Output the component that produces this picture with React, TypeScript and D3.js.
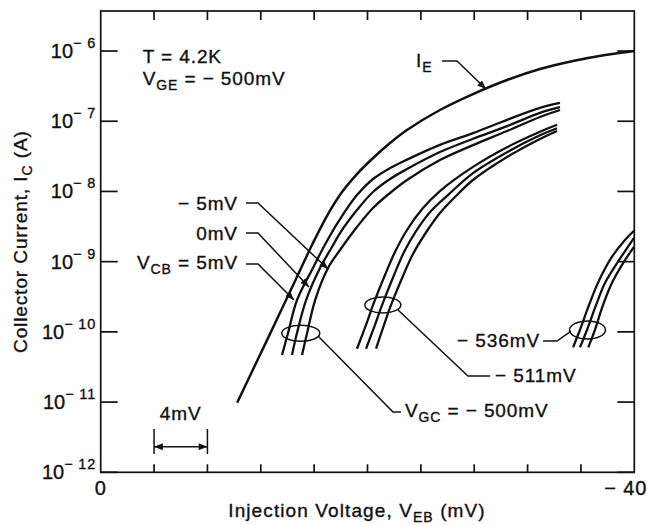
import * as d3 from "d3";

const FONT = "'Liberation Sans', Arial, Helvetica, sans-serif";

// x: injection voltage V_EB (mV), y: log10 of current (A)
const xTickValues = [0, -4, -8, -12, -16, -20, -24, -28, -32, -36, -40];
const yDecades = [-12, -11, -10, -9, -8, -7, -6];
const yTickSup = ["− 12", "− 11", "− 10", "− 9", "− 8", "− 7", "− 6"];

const emitterCurrent: [number, number][] = [
  [-10.23, -11.01], [-11.72, -10.415], [-13.22, -9.817], [-14.64, -9.247], [-15.91, -8.735],
  [-17.04, -8.322], [-18.09, -8.008], [-19.21, -7.752], [-20.34, -7.538], [-21.69, -7.31],
  [-22.96, -7.125], [-25.43, -6.84], [-27.91, -6.613], [-30.46, -6.413], [-32.93, -6.257],
  [-35.41, -6.143], [-37.81, -6.057], [-39.98, -6.0],
];

// V_GC = -500 mV, V_CB = 5, 0, -5 mV
const gc500Vcb5: [number, number][] = [
  [-13.59, -10.33], [-14.04, -10.02], [-14.71, -9.55], [-15.91, -9.09], [-16.89, -8.73],
  [-17.94, -8.393], [-19.21, -8.051], [-20.41, -7.823], [-21.69, -7.667], [-22.96, -7.547],
  [-25.43, -7.337], [-27.91, -7.17], [-30.46, -6.98], [-32.93, -6.81], [-34.43, -6.74],
];
const gc500Vcb0: [number, number][] = [
  [-14.34, -10.33], [-14.71, -10.02], [-15.39, -9.55], [-16.44, -9.09], [-17.34, -8.791],
  [-17.94, -8.592], [-19.21, -8.265], [-20.41, -8.008], [-21.69, -7.823], [-22.96, -7.681],
  [-25.43, -7.439], [-27.91, -7.25], [-30.46, -7.07], [-32.93, -6.88], [-34.43, -6.8],
];
const gc500VcbM5: [number, number][] = [
  [-15.09, -10.33], [-15.47, -10.02], [-16.07, -9.55], [-17.04, -9.09], [-17.94, -8.834],
  [-19.21, -8.507], [-20.41, -8.236], [-21.69, -8.022], [-22.96, -7.837], [-25.43, -7.553],
  [-27.91, -7.34], [-30.46, -7.14], [-32.93, -6.94], [-34.43, -6.84],
];

// V_GC = -511 mV
const gc511Vcb5: [number, number][] = [
  [-19.21, -10.24], [-19.89, -9.9], [-20.41, -9.62], [-21.31, -9.19], [-22.06, -8.863],
  [-22.96, -8.549], [-24.16, -8.236], [-25.43, -7.994], [-27.91, -7.65], [-30.46, -7.37],
  [-32.93, -7.15], [-34.21, -7.05],
];
const gc511Vcb0: [number, number][] = [
  [-19.89, -10.24], [-20.56, -9.9], [-21.09, -9.62], [-21.99, -9.19], [-22.74, -8.863],
  [-23.64, -8.564], [-24.76, -8.279], [-26.03, -8.051], [-27.91, -7.738], [-30.46, -7.44],
  [-32.93, -7.2], [-34.21, -7.1],
];
const gc511VcbM5: [number, number][] = [
  [-20.64, -10.24], [-21.24, -9.9], [-21.76, -9.62], [-22.66, -9.204], [-23.41, -8.891],
  [-24.31, -8.606], [-25.43, -8.307], [-26.63, -8.065], [-27.91, -7.837], [-30.46, -7.51],
  [-32.93, -7.253], [-34.21, -7.14],
];

// V_GC = -536 mV
const gc536Vcb5: [number, number][] = [
  [-35.41, -10.22], [-35.93, -9.97], [-36.6, -9.62], [-37.28, -9.3], [-38.33, -8.93],
  [-39.3, -8.69], [-39.98, -8.56],
];
const gc536Vcb0: [number, number][] = [
  [-35.93, -10.22], [-36.46, -9.97], [-37.13, -9.62], [-37.81, -9.3], [-38.78, -9.0],
  [-39.98, -8.66],
];
const gc536VcbM5: [number, number][] = [
  [-36.55, -10.22], [-37.05, -9.97], [-37.65, -9.62], [-38.33, -9.3], [-39.23, -9.0],
  [-39.98, -8.79],
];

const collectorCurves = [
  gc500Vcb5, gc500Vcb0, gc500VcbM5,
  gc511Vcb5, gc511Vcb0, gc511VcbM5,
  gc536Vcb5, gc536Vcb0, gc536VcbM5,
];

// annotation anchors, in (mV, log10 A)
const ellipses: { c: [number, number]; rx: number; ry: number }[] = [
  { c: [-15.0, -10.02], rx: 19, ry: 8 },
  { c: [-21.15, -9.617], rx: 18, ry: 8 },
  { c: [-36.49, -9.973], rx: 18, ry: 9 },
];
const arrowLeaders: [number, number][][] = [
  [[-10.89, -8.165], [-11.79, -8.165], [-17.04, -9.105]],
  [[-10.89, -8.592], [-11.79, -8.592], [-15.61, -9.361]],
  [[-10.89, -9.034], [-11.79, -9.034], [-14.49, -9.546]],
  [[-25.58, -6.143], [-26.71, -6.143], [-28.88, -6.541]],
];
const plainLeaders: [number, number][][] = [
  [[-16.29, -10.059], [-21.91, -11.141], [-22.51, -11.141]],
  [[-22.29, -9.688], [-27.53, -10.629], [-29.19, -10.629]],
  [[-33.16, -10.13], [-34.21, -10.13], [-35.25, -9.988]],
];

export default function App() {
  const W = 647;
  const H = 525;
  const x = d3.scaleLinear().domain([0, -40]).range([100.7, 634.3]);
  const y = d3.scaleLog().domain([1e-12, Math.pow(10, -5.43)]).range([472.3, 11]);
  const Y = (lg: number) => y(Math.pow(10, lg));
  const left = x(0);
  const right = x(-40);
  const top = y.range()[1];
  const bottom = y.range()[0];

  const curve = d3
    .line<[number, number]>()
    .x((d) => x(d[0]))
    .y((d) => Y(d[1]))
    .curve(d3.curveCatmullRom.alpha(0.5));
  const poly = d3
    .line<[number, number]>()
    .x((d) => x(d[0]))
    .y((d) => Y(d[1]));

  const ts = {
    fontFamily: FONT,
    fontSize: 19,
    letterSpacing: 0.9,
    fill: "#111",
    stroke: "#111",
    strokeWidth: 0.35,
  } as const;
  const sub = 14;

  return (
    <svg width={W} height={H} style={{ position: "absolute", left: 0, top: 0, background: "#fff" }}>
      <defs>
        <marker id="arr" viewBox="0 0 10 8" refX="10" refY="4" markerWidth="10" markerHeight="7"
          markerUnits="userSpaceOnUse" orient="auto-start-reverse">
          <path d="M0,0 L10,4 L0,8 z" fill="#111" />
        </marker>
        <clipPath id="plot">
          <rect x={left} y={top} width={right - left} height={bottom - top} />
        </clipPath>
      </defs>

      {/* frame */}
      <rect x={left} y={top} width={right - left} height={bottom - top} fill="none" stroke="#111" strokeWidth={1.7} />

      {/* y ticks both sides */}
      {yDecades.map((d, i) => (
        <g key={d}>
          <line x1={left} x2={left + 17} y1={Y(d)} y2={Y(d)} stroke="#111" strokeWidth={1.7} />
          <line x1={right - 17} x2={right} y1={Y(d)} y2={Y(d)} stroke="#111" strokeWidth={1.7} />
          <text x={96} y={Y(d) + 7} textAnchor="end" {...ts} fontSize={20} letterSpacing={0}>
            10
            <tspan dy={-10} fontSize={14.5} letterSpacing={0.8}>{yTickSup[i]}</tspan>
          </text>
        </g>
      ))}

      {/* x ticks top and bottom */}
      {xTickValues.slice(1, -1).map((t) => (
        <g key={t}>
          <line x1={x(t)} x2={x(t)} y1={top} y2={top + 9} stroke="#111" strokeWidth={1.7} />
          <line x1={x(t)} x2={x(t)} y1={bottom} y2={bottom - 8} stroke="#111" strokeWidth={1.7} />
        </g>
      ))}
      <text x={x(0)} y={495} textAnchor="middle" {...ts} fontSize={20}>0</text>
      <text x={x(-40) + 13} y={495} textAnchor="end" {...ts} fontSize={20}>− 40</text>

      {/* axis titles */}
      <text x={357} y={517} textAnchor="middle" {...ts} letterSpacing={1.1}>
        Injection Voltage, V<tspan dy={5} fontSize={sub}>EB</tspan>
        <tspan dy={-5}> (mV)</tspan>
      </text>
      <text transform={`translate(27,${(top + bottom) / 2}) rotate(-90)`} textAnchor="middle" {...ts}>
        Collector Current, I<tspan dy={5} fontSize={sub}>C</tspan>
        <tspan dy={-5}> (A)</tspan>
      </text>

      {/* curves */}
      <g clipPath="url(#plot)" fill="none" stroke="#111" strokeLinecap="butt">
        <path d={curve(emitterCurrent) ?? ""} strokeWidth={2.5} />
        {collectorCurves.map((c, i) => (
          <path key={i} d={curve(c) ?? ""} strokeWidth={2.3} />
        ))}
      </g>

      {/* ellipses and leaders */}
      <g fill="none" stroke="#111" strokeWidth={1.5}>
        {ellipses.map((e, i) => (
          <ellipse key={i} cx={x(e.c[0])} cy={Y(e.c[1])} rx={e.rx} ry={e.ry} />
        ))}
        {arrowLeaders.map((p, i) => (
          <path key={i} d={poly(p) ?? ""} markerEnd="url(#arr)" />
        ))}
        {plainLeaders.map((p, i) => (
          <path key={i} d={poly(p) ?? ""} />
        ))}
      </g>

      {/* 4 mV scale bar */}
      <g stroke="#111" strokeWidth={1.5}>
        <line x1={x(-4)} x2={x(-4)} y1={Y(-11.383)} y2={Y(-11.739)} />
        <line x1={x(-8)} x2={x(-8)} y1={Y(-11.383)} y2={Y(-11.739)} />
        <line x1={x(-4)} x2={x(-8)} y1={Y(-11.635)} y2={Y(-11.635)} markerStart="url(#arr)" markerEnd="url(#arr)" />
      </g>
      <text x={x(-6)} y={Y(-11.255)} textAnchor="middle" {...ts}>4mV</text>

      {/* labels */}
      <text x={x(-3.15)} y={Y(-6.171)} {...ts}>T = 4.2K</text>
      <text x={x(-3.15)} y={Y(-6.484)} {...ts}>
        V<tspan dy={5} fontSize={sub}>GE</tspan>
        <tspan dy={-5}> = − 500mV</tspan>
      </text>
      <text x={x(-10.29)} y={Y(-8.265)} textAnchor="end" {...ts}>− 5mV</text>
      <text x={x(-10.29)} y={Y(-8.692)} textAnchor="end" {...ts}>0mV</text>
      <text x={x(-10.29)} y={Y(-9.105)} textAnchor="end" {...ts}>
        V<tspan dy={5} fontSize={sub}>CB</tspan>
        <tspan dy={-5}> = 5mV</tspan>
      </text>
      <text x={x(-22.81)} y={Y(-11.212)} {...ts}>
        V<tspan dy={5} fontSize={sub}>GC</tspan>
        <tspan dy={-5}> = − 500mV</tspan>
      </text>
      <text x={x(-29.56)} y={Y(-10.714)} {...ts}>− 511mV</text>
      <text x={x(-32.93)} y={Y(-10.216)} textAnchor="end" {...ts}>− 536mV</text>
      <text x={x(-23.64)} y={Y(-6.228)} {...ts}>
        I<tspan dy={5} fontSize={sub}>E</tspan>
      </text>
    </svg>
  );
}
